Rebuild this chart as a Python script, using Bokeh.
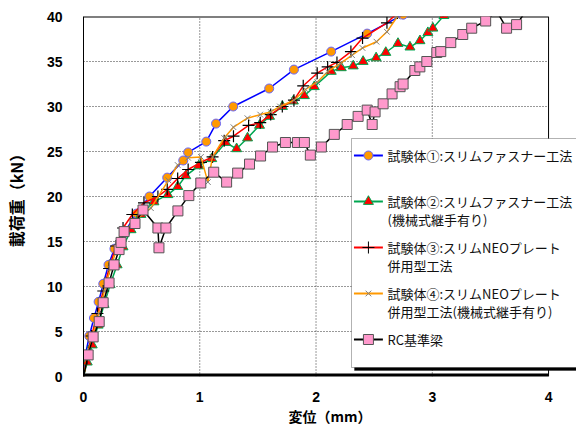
import math
from bokeh.plotting import figure
from bokeh.models import Range1d, Label, BoxAnnotation, FixedTicker
from bokeh.embed import file_html
from bokeh.resources import INLINE

# ---------------- data (displacement mm, load kN) ----------------
s1_x = [0, 0.01, 0.05, 0.09, 0.13, 0.17, 0.215, 0.266, 0.352, 0.455, 0.567, 0.72, 0.858, 0.90,
        1.056, 1.14, 1.288, 1.597, 1.81, 2.13, 2.44, 2.75]
s1_y = [0, 2.0, 4.5, 6.5, 8.3, 10.3, 12.4, 14.2, 16.0, 18.1, 20.0, 22.1, 24.0, 24.9,
        26.1, 28.1, 30.0, 32.0, 34.1, 36.1, 38.1, 40.2]

s2_x = [0, 0.032, 0.075, 0.126, 0.177, 0.229, 0.289, 0.34, 0.409, 0.494, 0.606, 0.726, 0.811, 0.88,
        0.991, 1.103, 1.223, 1.317, 1.411, 1.514, 1.6, 1.711, 1.805, 1.9, 1.985, 2.131, 2.217, 2.32,
        2.405, 2.517, 2.6, 2.705, 2.808, 2.894, 2.962, 3.005, 3.1]
s2_y = [0, 1.6, 3.5, 5.7, 8.0, 10.2, 12.4, 14.4, 16.3, 18.0, 19.4, 20.2, 21.1, 22.3,
        23.4, 24.2, 26.0, 25.3, 26.5, 27.9, 28.9, 30.0, 30.6, 31.2, 32.2, 33.9, 34.3, 34.5,
        35.0, 35.4, 36.0, 37.0, 36.6, 37.3, 38.2, 38.7, 40.1]

s3_x = [0, 0.03, 0.07, 0.12, 0.17, 0.22, 0.28, 0.34, 0.42, 0.52, 0.64, 0.72, 0.81, 0.90, 1.01,
        1.11, 1.21, 1.29, 1.42, 1.52, 1.61, 1.71, 1.81, 1.89, 2.01, 2.10, 2.18, 2.30, 2.40, 2.61, 2.70]
s3_y = [0, 2.0, 4.5, 7.0, 9.5, 12.0, 14.5, 16.5, 18.0, 19.3, 20.0, 20.8, 22.0, 23.0, 23.8,
        24.4, 26.2, 26.7, 27.9, 28.2, 29.1, 30.0, 30.7, 32.3, 33.7, 34.4, 34.9, 36.1, 37.6, 39.3, 40.4]

s4_x = [0, 0.03, 0.08, 0.13, 0.18, 0.23, 0.29, 0.36, 0.46, 0.58, 0.73, 0.81, 0.90, 1.01, 1.07,
        1.11, 1.21, 1.29, 1.41, 1.52, 1.61, 1.69, 1.81, 1.91, 2.01, 2.10, 2.21, 2.31, 2.40, 2.52,
        2.61, 2.70]
s4_y = [0, 2.0, 4.5, 7.0, 9.5, 12.0, 14.3, 16.3, 17.5, 18.7, 21.8, 23.5, 24.3, 24.4, 21.6,
        24.4, 26.5, 27.7, 28.7, 29.1, 29.4, 30.0, 30.7, 31.9, 32.7, 33.9, 34.8, 35.7, 36.5, 37.2,
        38.3, 40.0]

rc_x = [0, 0.04, 0.083, 0.135, 0.169, 0.22, 0.263, 0.306, 0.323, 0.349, 0.443, 0.512, 0.64, 0.649,
        0.709, 0.812, 0.906, 1.009, 1.12, 1.231, 1.326, 1.428, 1.523, 1.626, 1.737, 1.84, 1.9,
        1.951, 2.046, 2.157, 2.268, 2.362, 2.44, 2.483, 2.508, 2.577, 2.654, 2.723, 2.749, 2.85,
        2.893, 2.953, 3.039, 3.073, 3.159, 3.262, 3.339, 3.459, 3.553, 3.639, 3.725, 3.81]
rc_y = [0, 2.4, 4.4, 6.1, 8.2, 10.4, 12.4, 14.1, 14.9, 16.1, 17.0, 18.5, 16.5, 14.3,
        16.5, 18.4, 20.1, 21.5, 22.7, 21.6, 22.6, 23.6, 24.5, 25.5, 26.0, 26.0, 26.0,
        24.6, 25.5, 26.9, 28.0, 28.9, 29.6, 28.0, 29.4, 30.3, 31.4, 32.2, 32.5, 34.0,
        34.4, 35.0, 36.0, 36.1, 37.1, 38.0, 38.7, 39.5, 40.6, 38.7, 39.1, 40.7]

x_ticks = [0, 1, 2, 3, 4]
y_ticks = [0, 5, 10, 15, 20, 25, 30, 35, 40]
grid_x = [1, 2, 3]
grid_y = [5, 10, 15, 20, 25, 30, 35]
x_title = "変位（mm）"
y_title = "載荷重（kN）"
legend_lines = [
    ["試験体①:スリムファスナー工法", ""],
    ["試験体②:スリムファスナー工法", "(機械式継手有り)"],
    ["試験体③:スリムNEOプレート", "併用型工法"],
    ["試験体④:スリムNEOプレート", "併用型工法(機械式継手有り)"],
    ["RC基準梁"],
]

JP = "Noto Sans CJK JP"

# ---------------- figure ----------------
FW, FH = 576, 428
ML, MR, MT, MB = 82, 0, 16, 52
X_MAX = 4.0
PX_PER_X = 116.5
x_end = X_MAX + 28 / PX_PER_X      # frame runs on to the window edge so the legend can overhang
p = figure(width=FW, height=FH, output_backend="svg", toolbar_location=None,
           x_range=Range1d(0, x_end), y_range=Range1d(0, 40),
           min_border_left=ML, min_border_right=MR, min_border_top=MT, min_border_bottom=MB)
p.outline_line_color = None
p.background_fill_color = "white"
p.border_fill_color = "white"
p.xgrid.visible = False
p.ygrid.visible = False

for ax in (p.xaxis, p.yaxis):
    ax.major_tick_in = 0
    ax.major_tick_out = 0
    ax.minor_tick_in = 0
    ax.minor_tick_out = 0
    ax.major_label_text_font = "Liberation Sans"
    ax.major_label_text_font_style = "bold"
    ax.major_label_text_font_size = "14px"
    ax.major_label_text_color = "black"
    ax.axis_label_text_font = JP
    ax.axis_label_text_font_style = "bold"
    ax.axis_label_text_color = "black"
p.xaxis.ticker = FixedTicker(ticks=x_ticks)
p.yaxis.ticker = FixedTicker(ticks=y_ticks)
p.xaxis.axis_line_color = None
p.yaxis.axis_line_color = "black"
p.yaxis.axis_line_width = 1
p.xaxis.major_label_standoff = 15
p.yaxis.major_label_standoff = 21

p.xaxis.axis_label = x_title
p.xaxis.axis_label_text_font_size = "14px"
p.xaxis.axis_label_standoff = 1
p.yaxis.axis_label = y_title
p.yaxis.axis_label_text_font_size = "16px"
p.yaxis.axis_label_standoff = 16

# ---------------- grid & frame borders ----------------
p.segment(x0=grid_x, x1=grid_x, y0=0, y1=40, line_color="#333333", line_dash="1 2", line_width=1)
p.segment(x0=0, x1=X_MAX, y0=grid_y, y1=grid_y, line_color="#333333", line_dash="1 2", line_width=1)
p.segment(x0=[0], x1=[X_MAX], y0=[40], y1=[40], line_color="black", line_width=2)
p.segment(x0=[X_MAX], x1=[X_MAX], y0=[0], y1=[40], line_color="black", line_width=1)

# ---------------- series ----------------
p.line(s1_x, s1_y, line_color="#0000FF", line_width=1.5)
p.scatter(s1_x[1:], s1_y[1:], marker="circle", size=9, fill_color="#FF9900", line_color="#6666FF", line_width=1)

p.line(s2_x, s2_y, line_color="#00A650", line_width=1.5)
p.scatter(s2_x[1:], s2_y[1:], marker="triangle", size=10, fill_color="#FF0000", line_color="#00A650", line_width=1)

p.line(s3_x, s3_y, line_color="#FF0000", line_width=1.5)
p.scatter(s3_x[1:], s3_y[1:], marker="cross", size=12, line_color="black", line_width=1.2)

p.line(s4_x, s4_y, line_color="#FF9900", line_width=1.5)
p.scatter(s4_x[1:], s4_y[1:], marker="x", size=8, line_color="#808080", line_width=1)

p.line(rc_x, rc_y, line_color="black", line_width=1.5)
p.scatter(rc_x[1:], rc_y[1:], marker="square", size=10, fill_color="#FF99CC", line_color="#555555", line_width=1)

# thick x-axis base line (0..4)
p.segment(x0=[0], x1=[X_MAX], y0=[0], y1=[0], line_color="black", line_width=6)

# ---------------- legend (drawn manually, frame-relative screen px) ----------------
frame_w = FW - ML - MR
frame_h = FH - MT - MB
sx_per = frame_w / x_end
sy_per = frame_h / 40.0

LG_L, LG_T, LG_B, LG_R = 268, 238, 9, 520
p.add_layout(BoxAnnotation(left=LG_L + 3, right=LG_R + 3, top=LG_T - 3, bottom=LG_B - 3,
                           left_units="screen", right_units="screen", top_units="screen", bottom_units="screen",
                           fill_color="black", fill_alpha=1, line_color="black"))
p.add_layout(BoxAnnotation(left=LG_L, right=LG_R, top=LG_T, bottom=LG_B,
                           left_units="screen", right_units="screen", top_units="screen", bottom_units="screen",
                           fill_color="white", fill_alpha=1, line_color="black", line_width=1))

row0 = 221
row_h = 18
item_h = 46
samples = [
    dict(line="#0000FF", marker="circle", size=9, fill="#FF9900", mline="#6666FF"),
    dict(line="#00A650", marker="triangle", size=10, fill="#FF0000", mline="#00A650"),
    dict(line="#FF0000", marker="cross", size=12, fill=None, mline="black"),
    dict(line="#FF9900", marker="x", size=8, fill=None, mline="#808080"),
    dict(line="black", marker="square", size=10, fill="#FF99CC", mline="#555555"),
]
gx0, gx1 = LG_L + 3, LG_L + 32
for i, (lines, smp) in enumerate(zip(legend_lines, samples)):
    yy = row0 - i * item_h
    yd = yy / sy_per
    r = p.line([gx0 / sx_per, gx1 / sx_per], [yd, yd], line_color=smp["line"], line_width=2)
    r.level = "overlay"
    r = p.scatter([(gx0 + gx1) / 2 / sx_per], [yd], marker=smp["marker"], size=smp["size"],
                  fill_color=smp["fill"], line_color=smp["mline"], line_width=1)
    r.level = "overlay"
    for j, t in enumerate(lines):
        if not t:
            continue
        lab = Label(x=LG_L + 36, y=yy - j * row_h, x_units="screen", y_units="screen", text=t,
                    text_font=JP, text_font_size="13px", text_color="#111111",
                    text_align="left", text_baseline="middle")
        lab.level = "overlay"
        p.add_layout(lab)

open("out.html", "w").write(file_html(p, INLINE))
